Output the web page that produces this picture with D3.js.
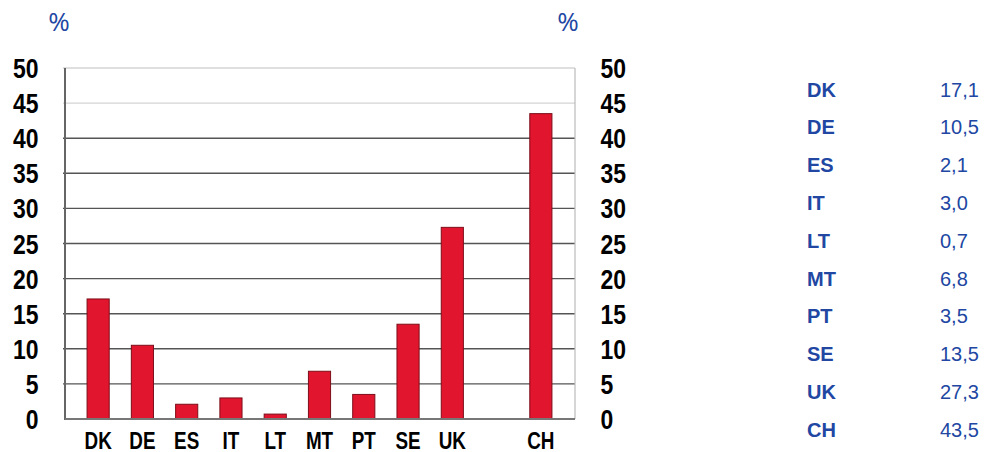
<!DOCTYPE html>
<html>
<head>
<meta charset="utf-8">
<script src="https://cdn.jsdelivr.net/npm/d3@7"></script>
<style>
  body { margin: 0; background: #fff; }
  svg { display: block; }
</style>
</head>
<body>
<svg id="chart"></svg>
<script>
// data
const countries = ["DK", "DE", "ES", "IT", "LT", "MT", "PT", "SE", "UK", "", "CH"];
const values = [17.1, 10.5, 2.1, 3.0, 0.7, 6.8, 3.5, 13.5, 27.3, null, 43.5];
const tableLabels = ["DK", "DE", "ES", "IT", "LT", "MT", "PT", "SE", "UK", "CH"];
const tableValues = ["17,1", "10,5", "2,1", "3,0", "0,7", "6,8", "3,5", "13,5", "27,3", "43,5"];
const yTicks = [0, 5, 10, 15, 20, 25, 30, 35, 40, 45, 50];

const width = 984, height = 452;
const plot = {left: 65, right: 575, top: 68, bottom: 419};
const blue = "#2147a3";
const font = "'Liberation Sans', Arial, sans-serif";
// no narrow font installed, so squeeze the bold face horizontally
const squeeze = 0.82;

const svg = d3.select("#chart")
    .attr("width", width)
    .attr("height", height);

const x = d3.scaleBand()
    .domain(countries.map((d, i) => i))
    .range([76, 563])
    .paddingInner(0.5)
    .paddingOuter(0.25);

const y = d3.scaleLinear()
    .domain([0, 50])
    .range([plot.bottom, plot.top]);

// gridlines
svg.append("g")
  .selectAll("line")
  .data(yTicks.filter(d => d > 0))
  .enter().append("line")
    .attr("x1", plot.left - 2)
    .attr("x2", plot.right)
    .attr("y1", d => y(d))
    .attr("y2", d => y(d))
    .attr("stroke", d => d >= 45 ? "#d4d4d4" : "#555")
    .attr("stroke-width", 1.4);

// right border
svg.append("line")
    .attr("x1", plot.right).attr("x2", plot.right)
    .attr("y1", plot.top).attr("y2", plot.bottom)
    .attr("stroke", "#bbb").attr("stroke-width", 1.2);

// bars
svg.append("g")
  .selectAll("rect")
  .data(values.map((v, i) => ({i: i, v: v})).filter(d => d.v !== null))
  .enter().append("rect")
    .attr("x", d => x(d.i))
    .attr("y", d => y(d.v))
    .attr("width", x.bandwidth())
    .attr("height", d => y(0) - y(d.v))
    .attr("fill", "#e2152f")
    .attr("stroke", "#7d0d18")
    .attr("stroke-width", 1);

// axis lines
svg.append("line")
    .attr("x1", plot.left).attr("x2", plot.left)
    .attr("y1", plot.top).attr("y2", plot.bottom + 1)
    .attr("stroke", "#666").attr("stroke-width", 2);
svg.append("line")
    .attr("x1", plot.left).attr("x2", plot.right)
    .attr("y1", plot.bottom).attr("y2", plot.bottom)
    .attr("stroke", "#777").attr("stroke-width", 2);

// y tick labels, left and right
function yLabels(xPos, anchor) {
  svg.append("g")
    .selectAll("text")
    .data(yTicks)
    .enter().append("text")
      .attr("transform", d => "translate(" + xPos + "," + y(d) + ") scale(" + squeeze + ",1)")
      .attr("dy", "0.36em")
      .attr("text-anchor", anchor)
      .attr("font-family", font)
      .attr("font-weight", "bold")
      .attr("font-size", 28)
      .text(d => d);
}
yLabels(38.5, "end");
yLabels(600.5, "start");

// x labels
svg.append("g")
  .selectAll("text")
  .data(countries.map((c, i) => ({c: c, i: i})).filter(d => d.c))
  .enter().append("text")
    .attr("transform", d => "translate(" + (x(d.i) + x.bandwidth() / 2) + ",449) scale(" + squeeze + ",1)")
    .attr("text-anchor", "middle")
    .attr("font-family", font)
    .attr("font-weight", "bold")
    .attr("font-size", 23)
    .text(d => d.c);

// % units
[59, 568].forEach(function(px) {
  svg.append("text").attr("x", px).attr("y", 31)
      .attr("text-anchor", "middle")
      .attr("font-family", "'Open Sans', 'Liberation Sans', sans-serif")
      .attr("font-size", 26).attr("fill", blue).text("%");
});

// side table
const rowY = d3.scalePoint()
    .domain(d3.range(tableLabels.length))
    .range([89.5, 429.5]);

const table = svg.append("g");
table.selectAll("text.lab")
  .data(tableLabels)
  .enter().append("text")
    .attr("class", "lab")
    .attr("x", 807)
    .attr("y", (d, i) => rowY(i))
    .attr("dy", "0.36em")
    .attr("font-family", font)
    .attr("font-weight", "bold")
    .attr("font-size", 20)
    .attr("fill", blue)
    .text(d => d);
table.selectAll("text.val")
  .data(tableValues)
  .enter().append("text")
    .attr("class", "val")
    .attr("x", 940)
    .attr("y", (d, i) => rowY(i))
    .attr("dy", "0.36em")
    .attr("font-family", font)
    .attr("font-size", 20)
    .attr("fill", blue)
    .text(d => d);
</script>
</body>
</html>
